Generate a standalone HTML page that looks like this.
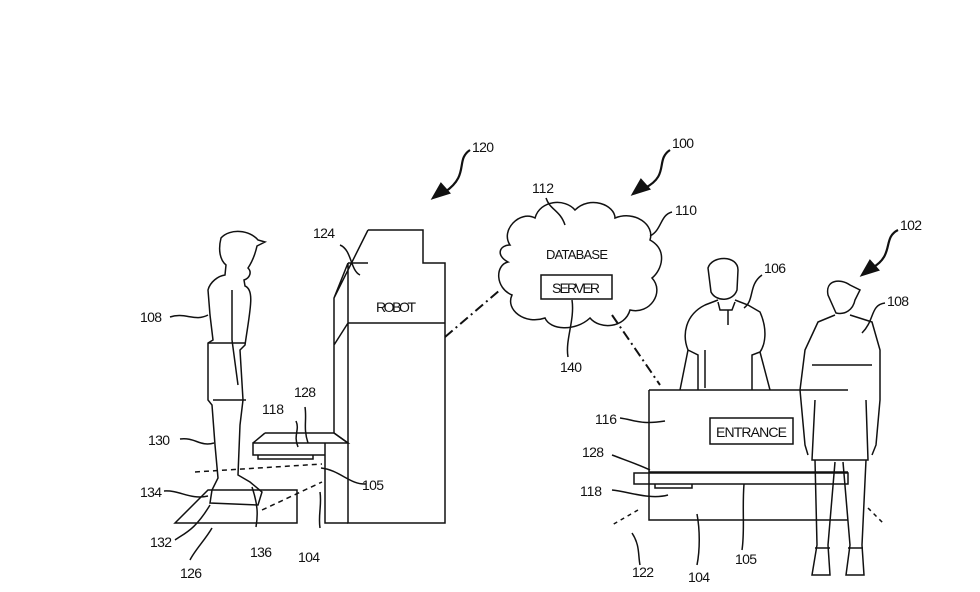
<!DOCTYPE html>
<html><head><style>body{margin:0;background:#fff}svg{display:block}text{font-family:"Liberation Sans Narrow","Liberation Sans",sans-serif;font-size:14px;fill:#111}</style></head>
<body>
<svg width="980" height="592" viewBox="0 0 980 592" fill="none" stroke="#111" stroke-width="1.5">
<g stroke-width="2.2">
<path d="M470 150 C455 160 470 175 445 192"/><path d="M433 198 l16-5 -8-9z" fill="#111"/>
<path d="M670 150 C655 160 670 175 645 188"/><path d="M633 194 l16-5 -8-9z" fill="#111"/>
<path d="M898 230 C882 238 895 255 872 268"/><path d="M862 275 l16-5 -8-9z" fill="#111"/>
</g>
<g stroke="none" transform="translate(0,0)">
</g>
<text x="472" y="152" stroke="none" textLength="22">120</text><text x="672" y="148" stroke="none" textLength="22">100</text><text x="900" y="230" stroke="none" textLength="22">102</text>
<path d="M368 230 H423 V263 H445 V523 H348 V443 L334 433 V298 L368 230 M348 263 V443 M348 263 H368 M334 298 L348 263 M348 323 H445 M334 345 L348 323"/>
<text x="376" y="312" stroke="none" textLength="40">ROBOT</text>
<path d="M265 433 H334 L348 443 H325 M253 443 L265 433 M253 443 H325 V455 H253 Z M258 455 V459 H313 V455 M325 455 V523 H348"/>
<path d="M175 523 L208 490 H297 V523 Z"/>
<path d="M195 472 L322 464 M262 510 L322 482" stroke-dasharray="5 4"/>
<path d="M445 337 L500 290" stroke-dasharray="10 4 2 4" stroke-width="2"/>
<path d="M221 238 C230 228 250 230 258 240 L265 242 L257 246 C255 255 252 262 248 268 C252 272 250 278 244 280 L245 286 C255 290 250 310 245 345 L240 350 L243 400 L240 425 L238 475 L250 482 L262 492 L258 505 L210 503 L212 490 L218 478 L215 445 L212 405 L208 400 L208 343 L213 340 L210 315 L208 290 C210 282 218 276 225 275 L226 265 C220 260 218 250 221 238 Z"/>
<path d="M208 343 H245 M213 400 H246 M232 290 L232 340 M232 340 L238 385"/>
<path d="M170 317 C185 312 195 322 208 315 M180 439 C195 437 200 447 214 443 M164 491 C180 490 190 500 208 496 M175 540 C185 533 195 530 210 505 M190 560 C195 550 205 540 212 528 M256 527 C258 515 258 505 252 487 M320 528 C318 515 322 505 320 492 M366 484 C350 485 340 470 321 468 M305 407 C307 420 303 428 308 443 M296 421 C300 430 293 435 298 447 M340 245 C352 250 350 270 360 275"/>
<text x="140" y="322" stroke="none" textLength="22">108</text><text x="148" y="445" stroke="none" textLength="22">130</text><text x="140" y="497" stroke="none" textLength="22">134</text><text x="150" y="547" stroke="none" textLength="22">132</text><text x="180" y="578" stroke="none" textLength="22">126</text><text x="250" y="557" stroke="none" textLength="22">136</text><text x="298" y="562" stroke="none" textLength="22">104</text><text x="362" y="490" stroke="none" textLength="22">105</text><text x="262" y="414" stroke="none" textLength="22">118</text><text x="294" y="397" stroke="none" textLength="22">128</text><text x="313" y="238" stroke="none" textLength="22">124</text>
<path d="M510 245 C500 230 520 210 535 218 C540 200 565 198 575 210 C590 195 615 205 615 218 C635 210 655 225 650 240 C668 250 662 270 652 278 C665 292 650 315 630 310 C625 328 600 330 590 318 C575 332 550 330 545 318 C525 325 505 310 512 295 C495 288 495 265 508 262 C495 255 500 245 510 245 Z"/>
<rect x="541" y="275" width="71" height="24"/>
<text x="546" y="259" stroke="none" textLength="62" style="font-size:13px">DATABASE</text><text x="552" y="293" stroke="none" textLength="48">SERVER</text>
<path d="M546 198 C550 210 560 210 565 225 M672 212 C660 215 662 230 650 236 M568 357 C565 340 575 320 572 300"/>
<text x="532" y="193" stroke="none" textLength="22">112</text><text x="675" y="215" stroke="none" textLength="22">110</text><text x="560" y="372" stroke="none" textLength="22">140</text>
<path d="M612 315 L660 385" stroke-dasharray="10 4 2 4" stroke-width="2"/>
<path d="M649 390 H848 M649 390 V520 H848 M649 472 H848 M634 473 H848 V484 H634 Z M655 484 V488 H692 V484"/>
<rect x="710" y="418" width="83" height="26"/><text x="716" y="437" stroke="none" textLength="71">ENTRANCE</text>
<path d="M638 510 L612 525 M868 508 L885 525" stroke-dasharray="4 4"/>
<!-- front person -->
<path d="M708 268 C712 255 738 255 738 270 L737 290 C733 302 716 302 711 292 Z M718 302 L720 310 L732 310 L735 302 M705 305 L718 300 M735 300 L748 305 L760 312 C768 330 765 345 760 352 L752 355 L752 390 M698 390 L698 355 L688 350 C682 335 685 315 705 305 M688 350 L680 390 M760 352 L770 390 M705 350 L705 388 M728 310 V325"/>
<!-- back person -->
<path d="M828 295 C825 280 840 278 850 285 L860 290 L855 300 C853 310 845 315 836 313 Z M835 315 L818 322 L805 350 L800 390 L805 445 L808 455 M850 315 L872 322 L880 350 L880 400 L876 445 L872 455 M812 365 H872 M815 400 L812 460 H868 L866 400 M815 460 L817 545 L812 575 H830 L828 545 L835 462 M843 462 L850 545 L846 575 H864 L862 545 L866 460 M815 548 H830 M848 548 H863"/>
<path d="M762 275 C748 285 755 300 744 308 M885 303 C870 305 875 320 862 333 M620 418 C635 420 640 425 665 421 M612 455 C625 460 640 465 650 470 M612 490 C630 492 650 500 668 495 M632 533 C640 545 638 555 640 565 M697 514 C700 530 700 550 697 565 M742 550 C745 530 742 510 744 484"/>
<text x="764" y="273" stroke="none" textLength="22">106</text><text x="887" y="306" stroke="none" textLength="22">108</text><text x="595" y="424" stroke="none" textLength="22">116</text><text x="582" y="457" stroke="none" textLength="22">128</text><text x="580" y="496" stroke="none" textLength="22">118</text><text x="632" y="577" stroke="none" textLength="22">122</text><text x="688" y="582" stroke="none" textLength="22">104</text><text x="735" y="564" stroke="none" textLength="22">105</text>
</svg>
</body></html>
